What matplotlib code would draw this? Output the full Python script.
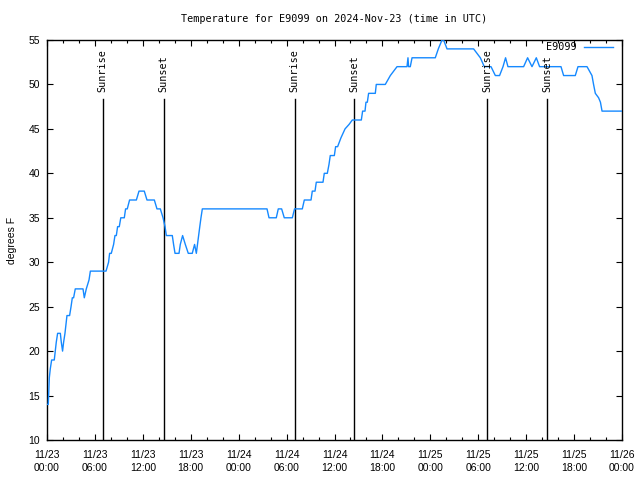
import numpy as np
import pandas as pd
import matplotlib
matplotlib.use("Agg")
import matplotlib.pyplot as plt
import matplotlib.dates as mdates

# Temperature readings: hours after 2024-11-23 00:00 UTC and degrees F
hours = [0.0, 0.16, 0.29, 0.41, 0.58, 0.91, 1.04, 1.16, 1.33, 1.67, 1.79, 1.95,
         2.08, 2.25, 2.38, 2.50, 2.83, 3.01, 3.17, 3.33, 3.54, 4.51, 4.67, 4.92,
         5.26, 5.43, 7.39, 7.71, 7.84, 8.05, 8.34, 8.51, 8.68, 8.84, 9.05, 9.24,
         9.68, 9.84, 10.05, 10.34, 11.19, 11.52, 12.18, 12.52, 13.44, 13.77, 14.19,
         14.53, 14.78, 14.94, 15.69, 15.85, 16.03, 16.53, 16.69, 16.98, 17.32,
         17.69, 18.19, 18.48, 18.70, 18.98, 19.13, 19.28, 19.45, 27.55, 27.80,
         28.71, 28.96, 29.38, 29.71, 30.72, 31.00, 31.97, 32.22, 33.06, 33.22,
         33.56, 33.72, 34.56, 34.72, 35.10, 35.31, 35.47, 35.98, 36.14, 36.39,
         36.81, 37.32, 37.82, 38.23, 39.36, 39.52, 39.82, 39.94, 40.11, 40.27,
         41.11, 41.23, 42.36, 42.99, 43.83, 45.08, 45.20, 45.28, 45.49, 45.71,
         48.62, 49.00, 49.46, 49.66, 50.09, 53.42, 54.26, 54.76, 55.60, 56.14,
         56.67, 57.10, 57.42, 57.72, 59.68, 60.18, 60.73, 61.27, 61.68, 64.36,
         64.69, 66.15, 66.49, 67.62, 68.24, 68.44, 68.66, 69.07, 69.30, 69.50,
         72.0]
temps = [14, 14, 17, 18, 19, 19, 20, 21, 22, 22, 21, 20,
         21, 22, 23, 24, 24, 25, 26, 26, 27, 27, 26, 27,
         28, 29, 29, 30, 31, 31, 32, 33, 33, 34, 34, 35,
         35, 36, 36, 37, 37, 38, 38, 37, 37, 36, 36,
         35, 34, 33, 33, 32, 31, 31, 32, 33, 32,
         31, 31, 32, 31, 33, 34, 35, 36, 36, 35,
         35, 36, 36, 35, 35, 36, 36, 37, 37, 38,
         38, 39, 39, 40, 40, 41, 42, 42, 43, 43,
         44, 45, 45.5, 46, 46, 47, 47, 48, 48, 49,
         49, 50, 50, 51, 52, 52, 53, 52, 52, 53,
         53, 54, 55, 55, 54, 54, 53, 52, 52, 51,
         51, 52, 53, 52, 52, 53, 52, 53, 52, 52,
         51, 51, 52, 52, 51, 50, 49, 48.5, 48, 47,
         47]

sun_times = ["2024-11-23 06:58", "2024-11-23 14:36", "2024-11-24 07:00",
             "2024-11-24 14:30", "2024-11-25 07:06", "2024-11-25 14:37"]
sun_labels = ["Sunrise", "Sunset", "Sunrise", "Sunset", "Sunrise", "Sunset"]

start = pd.Timestamp("2024-11-23 00:00")
times = start + pd.to_timedelta(hours, unit="h")

mono = {"family": "DejaVu Sans Mono", "size": 7.3}
sans = {"family": "Liberation Sans", "size": 7.5}

fig = plt.figure(figsize=(6.4, 4.8), dpi=100)
ax = fig.add_axes([47 / 640, 40 / 480, 575 / 640, 400 / 480])

ax.plot(times, temps, color="#1589ff", lw=1.0, label="E9099", zorder=3)

for t, lab in zip(sun_times, sun_labels):
    ts = pd.Timestamp(t)
    ax.plot([ts, ts], [10, 48.4], color="black", lw=1.0, zorder=2)
    ax.text(ts, 49.15, lab, rotation=90, ha="center", va="bottom", fontdict=mono)

ax.set_xlim(start, start + pd.Timedelta(hours=72))
ax.set_ylim(10, 55)
ax.set_yticks(np.arange(10, 56, 5))
ax.xaxis.set_major_locator(mdates.HourLocator(byhour=[0, 6, 12, 18]))
ax.xaxis.set_minor_locator(mdates.HourLocator(interval=2))
ax.xaxis.set_major_formatter(mdates.DateFormatter("%m/%d\n%H:%M"))

ax.tick_params(which="both", direction="in", top=True, right=True, width=0.8)
ax.tick_params(which="major", length=4)
ax.tick_params(which="minor", length=2)
ax.tick_params(axis="x", pad=7)
ax.tick_params(axis="y", pad=5)
for lab in ax.get_xticklabels() + ax.get_yticklabels():
    lab.set_fontfamily(sans["family"])
    lab.set_fontsize(sans["size"])
    lab.set_linespacing(1.4)
for sp in ax.spines.values():
    sp.set_linewidth(1.0)

ax.set_ylabel("degrees F", fontdict=sans, labelpad=8)
fig.text(0.522, 1 - 19 / 480, "Temperature for E9099 on 2024-Nov-23 (time in UTC)",
         ha="center", va="center", fontdict=mono)

ax.legend(loc="upper right", frameon=False, markerfirst=False, handlelength=2.85,
          prop=mono, bbox_to_anchor=(0.997, 1.012), borderaxespad=0.3)

fig.savefig("out.png", dpi=100)
